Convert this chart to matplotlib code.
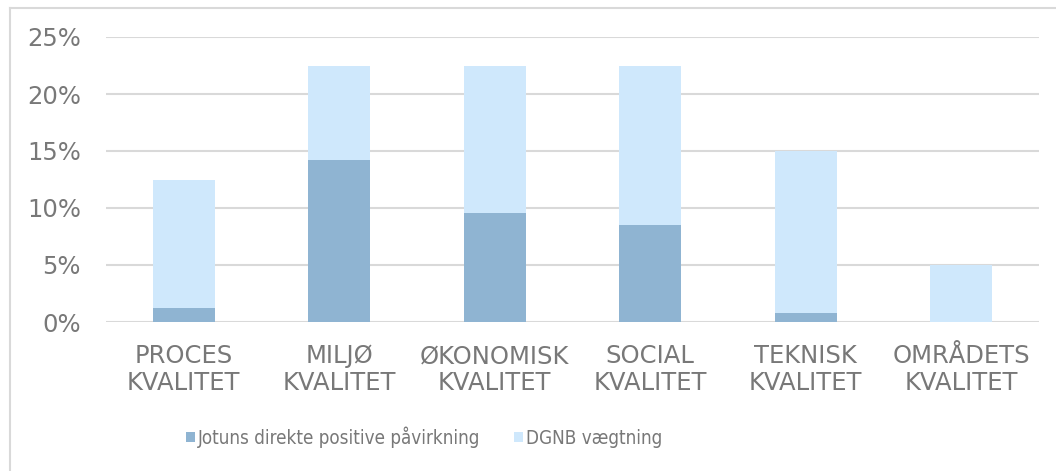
import matplotlib
matplotlib.use("Agg")
import matplotlib.pyplot as plt
from matplotlib.ticker import PercentFormatter, MultipleLocator
from matplotlib.lines import Line2D
from matplotlib.patches import Patch

categories = ["PROCES\nKVALITET", "MILJØ\nKVALITET", "ØKONOMISK\nKVALITET",
              "SOCIAL\nKVALITET", "TEKNISK\nKVALITET", "OMRÅDETS\nKVALITET"]
jotun = [0.012, 0.142, 0.096, 0.085, 0.008, 0.0]
dgnb = [0.125, 0.225, 0.225, 0.225, 0.15, 0.05]
series_names = ["Jotuns direkte positive påvirkning", "DGNB vægtning"]

c_dark = "#8FB4D2"
c_light = "#CFE8FC"
txt = "#787878"
grid = "#D9D9D9"

W, H = 1056, 471
fig = plt.figure(figsize=(W / 100, H / 100), dpi=100)
ax = fig.add_axes([106 / W, 1 - 322 / H, (1039 - 106) / W, (322 - 37) / H])

x = list(range(len(categories)))
ax.bar(x, dgnb, width=0.4, color=c_light, zorder=2)
ax.bar(x, jotun, width=0.4, color=c_dark, zorder=3)

ax.set_xlim(-0.5, len(categories) - 0.5)
ax.set_ylim(0, 0.25)
ax.yaxis.set_major_locator(MultipleLocator(0.05))
ax.yaxis.set_major_formatter(PercentFormatter(1.0, decimals=0))
ax.grid(axis="y", color=grid, linewidth=1.5, zorder=0)
for s in ax.spines.values():
    s.set_visible(False)
ax.tick_params(axis="both", length=0, labelsize=17.5, labelcolor=txt)
ax.tick_params(axis="y", pad=18)
ax.tick_params(axis="x", pad=16)
ax.set_xticks(x)
ax.set_xticklabels(categories, linespacing=1.12)

handles = [Patch(facecolor=c_dark), Patch(facecolor=c_light)]
leg = fig.legend(handles, series_names, loc="center", bbox_to_anchor=(424 / W, 1 - 437 / H),
                 ncol=2, frameon=False, handlelength=0.5, handleheight=0.5,
                 handletextpad=0.15, columnspacing=1.8, borderpad=0,
                 prop={"size": 13.5, "stretch": "condensed"})
for t in leg.get_texts():
    t.set_color(txt)

# outer frame (top and left edges visible)
fig.add_artist(Line2D([10 / W, 1], [1 - 8 / H, 1 - 8 / H], color=grid, lw=1.5))
fig.add_artist(Line2D([10 / W, 10 / W], [0, 1 - 8 / H], color=grid, lw=1.5))

fig.savefig("out.png", dpi=100)
